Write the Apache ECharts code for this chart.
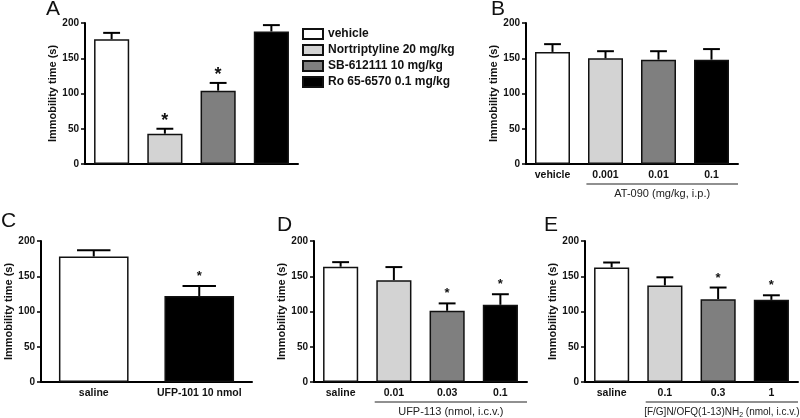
<!DOCTYPE html>
<html>
<head>
<meta charset="utf-8">
<script src="https://cdn.jsdelivr.net/npm/echarts@6/dist/echarts.min.js"></script>
<style>html,body{margin:0;padding:0;background:#fff}#c{width:800px;height:418px}</style>
</head>
<body>
<div id="c"></div>
<script>
// ---- data ----
const yTicks = [0, 50, 100, 150, 200];
const yTitle = 'Immobility time (s)';

const catsA = ['vehicle', 'Nortriptyline 20 mg/kg', 'SB-612111 10 mg/kg', 'Ro 65-6570 0.1 mg/kg'];
const meanA = [177, 43, 104, 188];
const errA  = [186, 50, 115, 197];
const sigA  = [0, 1, 1, 0];

const catsB = ['vehicle', '0.001', '0.01', '0.1'];
const meanB = [159, 150, 148, 148];
const errB  = [170, 160, 160, 163];
const sigB  = [0, 0, 0, 0];
const groupB = 'AT-090 (mg/kg, i.p.)';

const catsC = ['saline', 'UFP-101 10 nmol'];
const meanC = [178, 122];
const errC  = [187, 136];
const sigC  = [0, 1];

const catsD = ['saline', '0.01', '0.03', '0.1'];
const meanD = [163.5, 144.5, 101, 109.5];
const errD  = [170, 163, 111.5, 124.5];
const sigD  = [0, 0, 1, 1];
const groupD = 'UFP-113 (nmol, i.c.v.)';

const catsE = ['saline', '0.1', '0.3', '1'];
const meanE = [162.5, 137, 117.5, 116.5];
const errE  = [169.5, 148.5, 134, 123];
const sigE  = [0, 0, 1, 1];
const groupE = '[F/G]N/OFQ(1-13)NH{sub|2} (nmol, i.c.v.)';

// ---- styles ----
const fillsFour = ['#ffffff', '#d3d3d3', '#7f7f7f', '#000000'];
const fillsTwo  = ['#ffffff', '#000000'];
const FONT = '"Liberation Sans", Arial, sans-serif';
const BARW = '66%';

const grids = [
  {left: 85,  top: 23,  width: 213, height: 141},
  {left: 526, top: 23,  width: 212, height: 141},
  {left: 41,  top: 241, width: 211, height: 141},
  {left: 314, top: 241, width: 213, height: 141},
  {left: 585, top: 241, width: 213, height: 141}
];

function xAx(i, cats, showLabels) {
  return {
    type: 'category', gridIndex: i, data: cats,
    axisLine: {lineStyle: {color: '#000', width: 2}},
    axisTick: {show: false},
    axisLabel: {show: showLabels, interval: 0, color: '#111', fontFamily: FONT, fontWeight: 'bold', fontSize: 10.5, margin: 6}
  };
}
function yAx(i) {
  return {
    type: 'value', gridIndex: i, min: yTicks[0], max: yTicks[yTicks.length - 1], interval: yTicks[1] - yTicks[0],
    name: yTitle, nameLocation: 'middle', nameRotate: 90, nameGap: 26,
    nameTextStyle: {color: '#111', fontFamily: FONT, fontWeight: 'bold', fontSize: 11},
    axisLine: {show: true, lineStyle: {color: '#000', width: 2}},
    axisTick: {show: true, length: 4, lineStyle: {color: '#000', width: 1.5}},
    axisLabel: {color: '#111', fontFamily: FONT, fontWeight: 'bold', fontSize: 10, margin: 6},
    splitLine: {show: false}
  };
}

function barSeries(i, means, fills) {
  return {
    type: 'bar', xAxisIndex: i, yAxisIndex: i, barWidth: BARW, silent: true,
    data: means.map((v, k) => ({value: v, itemStyle: {color: fills[k]}})),
    itemStyle: {borderColor: '#111', borderWidth: 1.5}
  };
}

function errSeries(i, means, errs, sigs, starSize, starShift) {
  return {
    type: 'custom', xAxisIndex: i, yAxisIndex: i, silent: true, z: 5, clip: false,
    data: means.map((m, k) => [k, m, errs[k], sigs[k]]),
    encode: {x: 0, y: [1, 2]},
    renderItem: function (params, api) {
      const k = api.value(0);
      const p0 = api.coord([k, api.value(1)]);
      const p1 = api.coord([k, api.value(2)]);
      const bw = api.size([1, 0])[0] * 0.66;
      const half = bw * 0.24;
      const children = [
        {type: 'line', shape: {x1: p0[0], y1: p0[1], x2: p1[0], y2: p1[1]}, style: {stroke: '#000', lineWidth: 2}},
        {type: 'line', shape: {x1: p1[0] - half, y1: p1[1], x2: p1[0] + half, y2: p1[1]}, style: {stroke: '#000', lineWidth: 2}}
      ];
      if (api.value(3)) {
        children.push({type: 'text', style: {text: '*', x: p1[0], y: p1[1] + starShift, align: 'center', verticalAlign: 'bottom',
          fill: '#111', font: 'bold ' + starSize + 'px ' + FONT}});
      }
      return {type: 'group', children: children};
    }
  };
}

function groupSeries(i, cats, text, fontSize) {
  return {
    type: 'custom', xAxisIndex: i, yAxisIndex: i, silent: true, clip: false,
    data: [[1, 0]],
    renderItem: function (params, api) {
      const band = api.size([1, 0])[0];
      const a = api.coord([1, 0]);
      const b = api.coord([cats.length - 1, 0]);
      const x1 = a[0] - band * 0.36;
      const x2 = b[0] + band * 0.5;
      const y = a[1] + 20;
      return {type: 'group', children: [
        {type: 'line', shape: {x1: x1, y1: y, x2: x2, y2: y}, style: {stroke: '#222', lineWidth: 1.2}},
        {type: 'text', style: {text: text, x: (x1 + x2) / 2, y: y + 10, align: 'center', verticalAlign: 'middle',
          fill: '#222', fontFamily: FONT, fontSize: fontSize,
          rich: {sub: {fontSize: fontSize - 3, fontFamily: FONT, fill: '#222', padding: [6, 0, 0, 0]}}}}
      ]};
    }
  };
}

// Panel A: one series per treatment so the legend lists them
const seriesA = catsA.map((name, k) => ({
  name: name, type: 'bar', xAxisIndex: 0, yAxisIndex: 0, barWidth: BARW, barGap: '-100%', silent: true,
  data: meanA.map((v, j) => (j === k ? v : '-')),
  itemStyle: {color: fillsFour[k], borderColor: '#111', borderWidth: 1.5}
}));

const letters = [['A', 46, -1], ['B', 491, -1], ['C', 1, 211], ['D', 277, 215], ['E', 544, 215]];

const option = {
  backgroundColor: '#fff',
  animation: false,
  grid: grids,
  xAxis: [xAx(0, catsA, false), xAx(1, catsB, true), xAx(2, catsC, true), xAx(3, catsD, true), xAx(4, catsE, true)],
  yAxis: [yAx(0), yAx(1), yAx(2), yAx(3), yAx(4)],
  legend: {
    data: catsA, orient: 'vertical', left: 302, top: 27, padding: 0, icon: 'rect',
    itemWidth: 20, itemHeight: 10, itemGap: 2, selectedMode: false,
    textStyle: {color: '#111', fontFamily: FONT, fontWeight: 'bold', fontSize: 12, lineHeight: 14}
  },
  graphic: letters.map(l => ({type: 'text', left: l[1], top: l[2],
    style: {text: l[0], fill: '#111', font: '21px ' + FONT}})),
  series: [
    ...seriesA,
    errSeries(0, meanA, errA, sigA, 18, 1),
    barSeries(1, meanB, fillsFour),
    errSeries(1, meanB, errB, sigB, 13, -3),
    groupSeries(1, catsB, groupB, 11),
    barSeries(2, meanC, fillsTwo),
    errSeries(2, meanC, errC, sigC, 13, -3),
    barSeries(3, meanD, fillsFour),
    errSeries(3, meanD, errD, sigD, 13, -3),
    groupSeries(3, catsD, groupD, 11),
    barSeries(4, meanE, fillsFour),
    errSeries(4, meanE, errE, sigE, 13, -3),
    groupSeries(4, catsE, groupE, 10)
  ]
};

const chart = echarts.init(document.getElementById('c'), null, {renderer: 'canvas'});
chart.setOption(option);
</script>
</body>
</html>
